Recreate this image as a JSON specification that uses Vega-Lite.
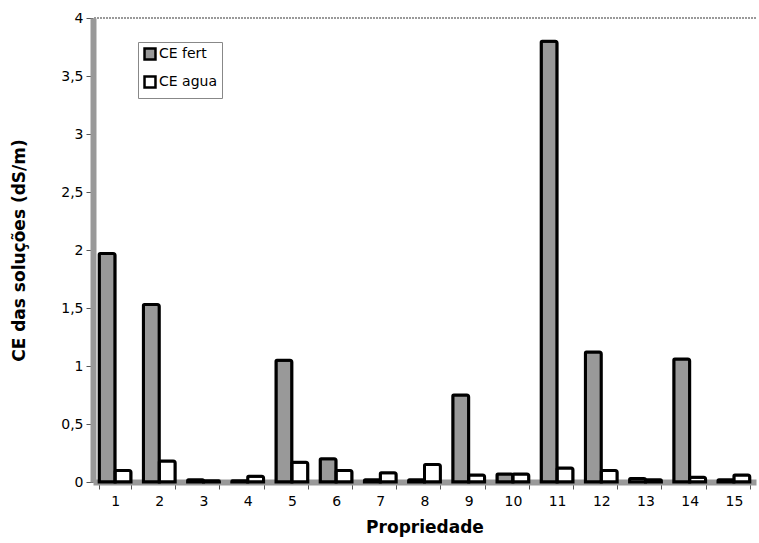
{
  "$schema": "https://vega.github.io/schema/vega-lite/v6.json",
  "autosize": {"type": "fit", "contains": "padding"},
  "width": 759,
  "height": 543,
  "padding": {"left": 10, "top": 11, "right": 2, "bottom": 8},
  "background": "white",
  "config": {
    "view": {"stroke": null},
    "font": "DejaVu Sans"
  },
  "data": {
    "values": [
      {"p": 1, "serie": "CE fert", "v": 1.97}, {"p": 1, "serie": "CE agua", "v": 0.1},
      {"p": 2, "serie": "CE fert", "v": 1.53}, {"p": 2, "serie": "CE agua", "v": 0.18},
      {"p": 3, "serie": "CE fert", "v": 0.02}, {"p": 3, "serie": "CE agua", "v": 0.01},
      {"p": 4, "serie": "CE fert", "v": 0.01}, {"p": 4, "serie": "CE agua", "v": 0.05},
      {"p": 5, "serie": "CE fert", "v": 1.05}, {"p": 5, "serie": "CE agua", "v": 0.17},
      {"p": 6, "serie": "CE fert", "v": 0.2}, {"p": 6, "serie": "CE agua", "v": 0.1},
      {"p": 7, "serie": "CE fert", "v": 0.02}, {"p": 7, "serie": "CE agua", "v": 0.08},
      {"p": 8, "serie": "CE fert", "v": 0.02}, {"p": 8, "serie": "CE agua", "v": 0.15},
      {"p": 9, "serie": "CE fert", "v": 0.75}, {"p": 9, "serie": "CE agua", "v": 0.06},
      {"p": 10, "serie": "CE fert", "v": 0.07}, {"p": 10, "serie": "CE agua", "v": 0.07},
      {"p": 11, "serie": "CE fert", "v": 3.8}, {"p": 11, "serie": "CE agua", "v": 0.12},
      {"p": 12, "serie": "CE fert", "v": 1.12}, {"p": 12, "serie": "CE agua", "v": 0.1},
      {"p": 13, "serie": "CE fert", "v": 0.03}, {"p": 13, "serie": "CE agua", "v": 0.02},
      {"p": 14, "serie": "CE fert", "v": 1.06}, {"p": 14, "serie": "CE agua", "v": 0.04},
      {"p": 15, "serie": "CE fert", "v": 0.02}, {"p": 15, "serie": "CE agua", "v": 0.06}
    ]
  },
  "layer": [
    {
      "mark": {"type": "rule", "stroke": "#999", "strokeDash": [2, 1], "strokeWidth": 1},
      "encoding": {"y": {"datum": 4, "type": "quantitative"}}
    },
    {
      "mark": {"type": "bar", "stroke": "black", "strokeWidth": 3, "cornerRadiusTopLeft": 1, "cornerRadiusTopRight": 2},
      "encoding": {
        "x": {
          "field": "p", "type": "ordinal",
          "scale": {"paddingInner": 0.28, "paddingOuter": 0.14},
          "axis": {
            "title": "Propriedade", "titleFontSize": 17, "titleFontWeight": "bold", "titleColor": "black",
            "titlePadding": 11,
            "labelAngle": 0, "labelFontSize": 14, "labelColor": "black", "labelPadding": 5,
            "tickBand": "extent", "tickColor": "#555", "tickSize": 7,
            "domainColor": "#999", "domainWidth": 6
          }
        },
        "xOffset": {"field": "serie", "type": "nominal", "sort": ["CE fert", "CE agua"], "scale": {"paddingInner": 0}},
        "y": {
          "field": "v", "type": "quantitative",
          "scale": {"domain": [0, 4], "nice": false},
          "axis": {
            "title": "CE das soluções (dS/m)", "titleFontSize": 17, "titleFontWeight": "bold", "titleColor": "black",
            "titlePadding": 32,
            "values": [0, 0.5, 1, 1.5, 2, 2.5, 3, 3.5, 4],
            "labelExpr": "replace(format(datum.value, '~g'), '.', ',')",
            "labelFontSize": 14, "labelColor": "black", "labelPadding": 3,
            "grid": false, "tickColor": "#555", "tickSize": 7,
            "domainColor": "#999", "domainWidth": 6
          }
        },
        "fill": {
          "field": "serie", "type": "nominal", "sort": ["CE fert", "CE agua"],
          "scale": {"domain": ["CE fert", "CE agua"], "range": ["#999999", "#ffffff"]},
          "legend": {
            "title": null, "orient": "none", "legendX": 45, "legendY": 24,
            "symbolType": "square", "symbolSize": 120, "symbolStrokeColor": "black", "symbolStrokeWidth": 2.5,
            "labelFontSize": 14, "labelColor": "black", "labelOffset": 2, "rowPadding": 6,
            "strokeColor": "#888", "padding": 5, "fillColor": "white"
          }
        }
      }
    }
  ]
}
